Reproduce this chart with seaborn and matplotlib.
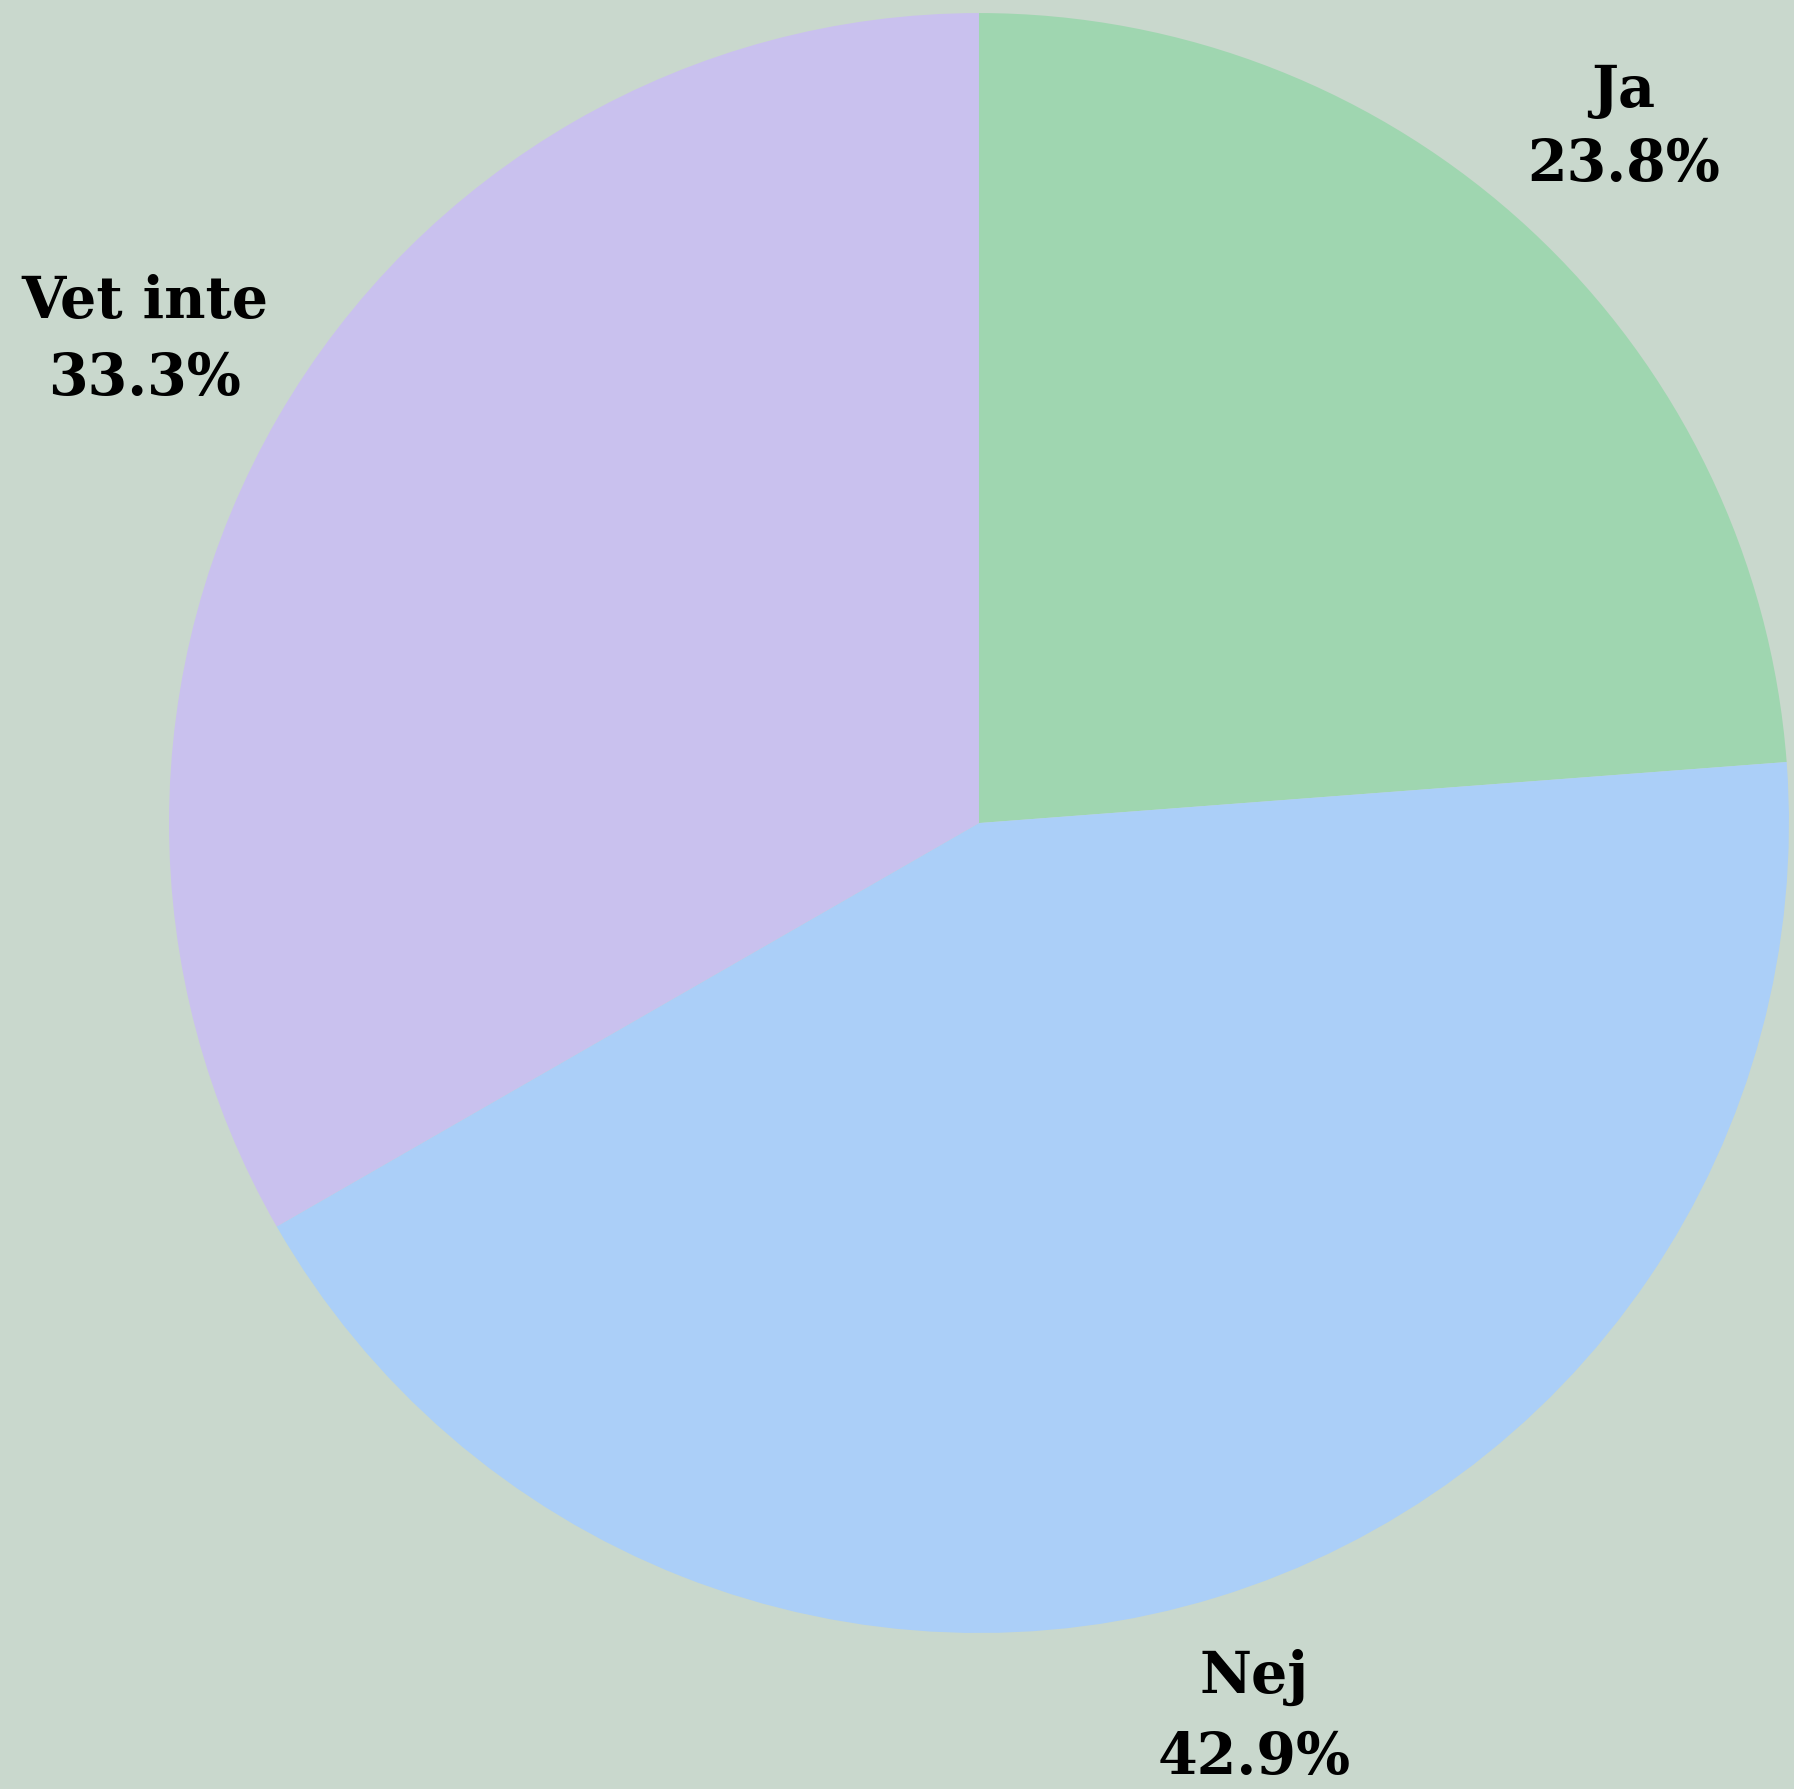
import matplotlib
matplotlib.use("Agg")
import matplotlib.pyplot as plt
import seaborn as sns
import numpy as np

categories = ["Ja", "Nej", "Vet inte"]
values = [23.8, 42.9, 33.3]
colors = ["#9fd6b0", "#abcff8", "#c9c1ee"]
label_dist = [1.17, 1.155, 1.19]
line_sp = [1.42, 1.55, 1.47]
bg = "#c9d8cd"

sns.set_theme(style="white")
plt.rcParams["font.family"] = ["DejaVu Serif"]

fig = plt.figure(figsize=(17.94, 17.89), dpi=100, facecolor=bg)
ax = fig.add_axes([0.0942, 0.0872, 0.903, 0.9055])
ax.set_facecolor(bg)

labels = [f"{c}\n{v:.1f}%" for c, v in zip(categories, values)]
wedges, texts = ax.pie(values, colors=colors, startangle=90, counterclock=False,
                       labels=labels, labeldistance=1.17,
                       wedgeprops=dict(linewidth=0),
                       textprops=dict(fontsize=41, fontweight="bold", color="#000000"))
for w, t, d, ls in zip(wedges, texts, label_dist, line_sp):
    ang = np.deg2rad((w.theta1 + w.theta2) / 2)
    t.set_position((d * np.cos(ang), d * np.sin(ang)))
    t.set_horizontalalignment("center")
    t.set_verticalalignment("center")
    t.set_linespacing(ls)
ax.set_xlim(-1, 1)
ax.set_ylim(-1, 1)
ax.set_aspect("equal")
ax.axis("off")

fig.savefig("out.png", dpi=100, facecolor=bg)
